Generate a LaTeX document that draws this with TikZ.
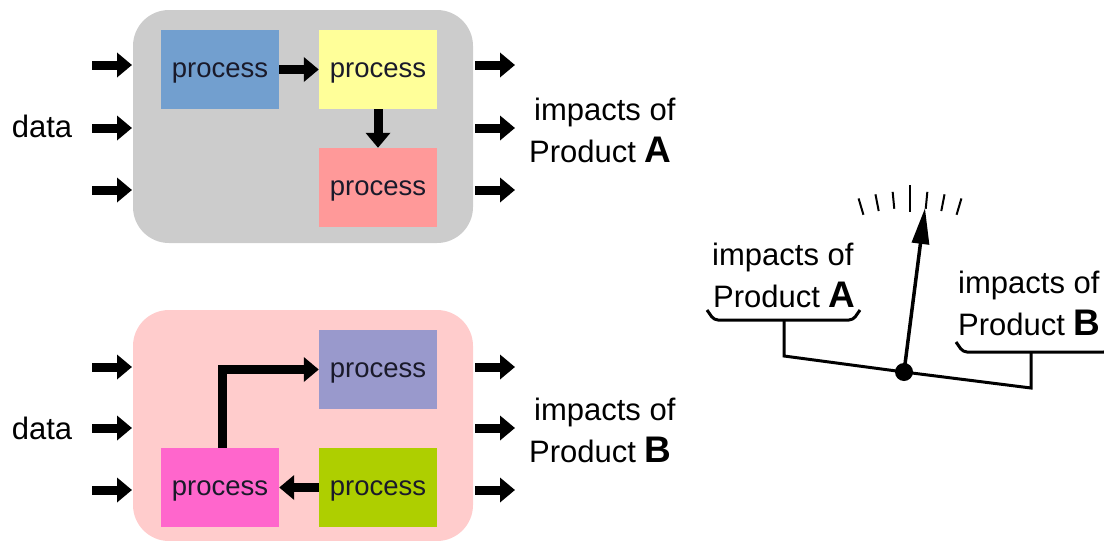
\documentclass[tikz,border=0pt]{standalone}
\usepackage{fontspec}
\setmainfont{Liberation Sans}
\usetikzlibrary{arrows.meta,calc}
\definecolor{boxgray}{HTML}{CCCCCC}
\definecolor{boxpink}{HTML}{FFCCCC}
\definecolor{pblue}{HTML}{729FCF}
\definecolor{pyellow}{HTML}{FFFF99}
\definecolor{pred}{HTML}{FF9999}
\definecolor{ppurple}{HTML}{9999CC}
\definecolor{pmagenta}{HTML}{FF66CC}
\definecolor{pgreen}{HTML}{AECF00}
\definecolor{ptext}{HTML}{1A1A2A}
\newcommand{\bigletter}[1]{\textbf{\fontsize{37}{40}\selectfont #1}}
\tikzset{
  container/.style={rounded corners=36pt, draw=none},
  procbox/.style={minimum width=118pt, minimum height=79pt, inner sep=0pt, font=\fontsize{27.5}{30}\selectfont, text=ptext, text height=20pt, text depth=4pt},
  fat/.style={line width=9pt, -{Triangle[length=15pt,width=24pt]}},
  label/.style={font=\fontsize{31}{42}\selectfont, align=center, inner sep=0pt},
  gauge/.style={line width=3pt},
  tick/.style={line width=2pt}
}
\begin{document}
\begin{tikzpicture}[x=1pt,y=-1pt]
\useasboundingbox (0,0) rectangle (1104,541);
\clip (0,0) rectangle (1104,541);
% ---------- top system ----------
\fill[boxgray, container] (133,10) rectangle (473,243);
\node[procbox, fill=pblue] (b1) at (220,69.5) {process};
\node[procbox, fill=pyellow] (y1) at (378,69.5) {process};
\node[procbox, fill=pred] (r1) at (378,187.5) {process};
\draw[fat] (b1.east) -- (y1.west);
\draw[fat] (y1.south) -- (r1.north);
\foreach \yy/\n in {65/a,128/b,190/c}{
  \coordinate (ti\n s) at (92,\yy); \coordinate (ti\n e) at (132,\yy);
  \coordinate (to\n s) at (475,\yy); \coordinate (to\n e) at (515,\yy);
  \draw[fat] (ti\n s) -- (ti\n e);
  \draw[fat] (to\n s) -- (to\n e);
}
\node[label] (dataA) at (42,126) {data};
\node[label, align=left, anchor=west] (impA) at (529,130) {\hspace*{5pt}impacts of\\Product \bigletter{A}};
% ---------- bottom system ----------
\fill[boxpink, container] (133,310) rectangle (473,541);
\node[procbox, fill=ppurple] (p2) at (378,369.5) {process};
\node[procbox, fill=pmagenta] (m2) at (220,487.5) {process};
\node[procbox, fill=pgreen] (g2) at (378,487.5) {process};
\draw[fat] ([xshift=2pt]m2.north) |- (p2.west);
\draw[fat] (g2.west) -- (m2.east);
\foreach \yy/\n in {367/a,428/b,490/c}{
  \coordinate (bi\n s) at (92,\yy); \coordinate (bi\n e) at (132,\yy);
  \coordinate (bo\n s) at (475,\yy); \coordinate (bo\n e) at (515,\yy);
  \draw[fat] (bi\n s) -- (bi\n e);
  \draw[fat] (bo\n s) -- (bo\n e);
}
\node[label] (dataB) at (42,428) {data};
\node[label, align=left, anchor=west] (impB) at (529,430) {\hspace*{5pt}impacts of\\Product \bigletter{B}};
% ---------- scale ----------
\coordinate (pivot) at (904,372);
\coordinate (tc) at (910,372);
\node[label, align=left, anchor=west] (gA) at (712,275) {impacts of\\\hspace*{1pt}Product \bigletter{A}};
\node[label, align=left, anchor=west] (gB) at (958,303) {impacts of\\Product \bigletter{B}};
\coordinate (la) at (707,310); \coordinate (lb) at (860,310);
\coordinate (ra) at (956,342); \coordinate (rb) at (1110,342);
\draw[gauge, rounded corners=4pt] (la) -- ++(7,10) -- ++(139,0) -- (lb);
\draw[gauge, rounded corners=4pt] (ra) -- ++(7,10) -- ++(145,0) -- (rb);
\coordinate (lt) at (784,320); \coordinate (lbot) at (784,356);
\coordinate (rt) at (1031,352); \coordinate (rbot) at (1031,388);
\draw[gauge] (lt) -- (lbot) -- (pivot) -- (rbot) -- (rt);
\coordinate (needletip) at (925,208);
\draw[line width=3.5pt, -{Triangle[length=36pt,width=17pt]}] (pivot) -- (needletip);
\fill (pivot) circle (9pt);
\foreach \a in {106.5,101,95.5,84.5,79,73.5}{
  \draw[tick] ($(tc)+({164*cos(\a)},{-164*sin(\a)})$) -- ($(tc)+({181*cos(\a)},{-181*sin(\a)})$);
}
\draw[tick] (910,185) -- (910,212);
\end{tikzpicture}
\end{document}
